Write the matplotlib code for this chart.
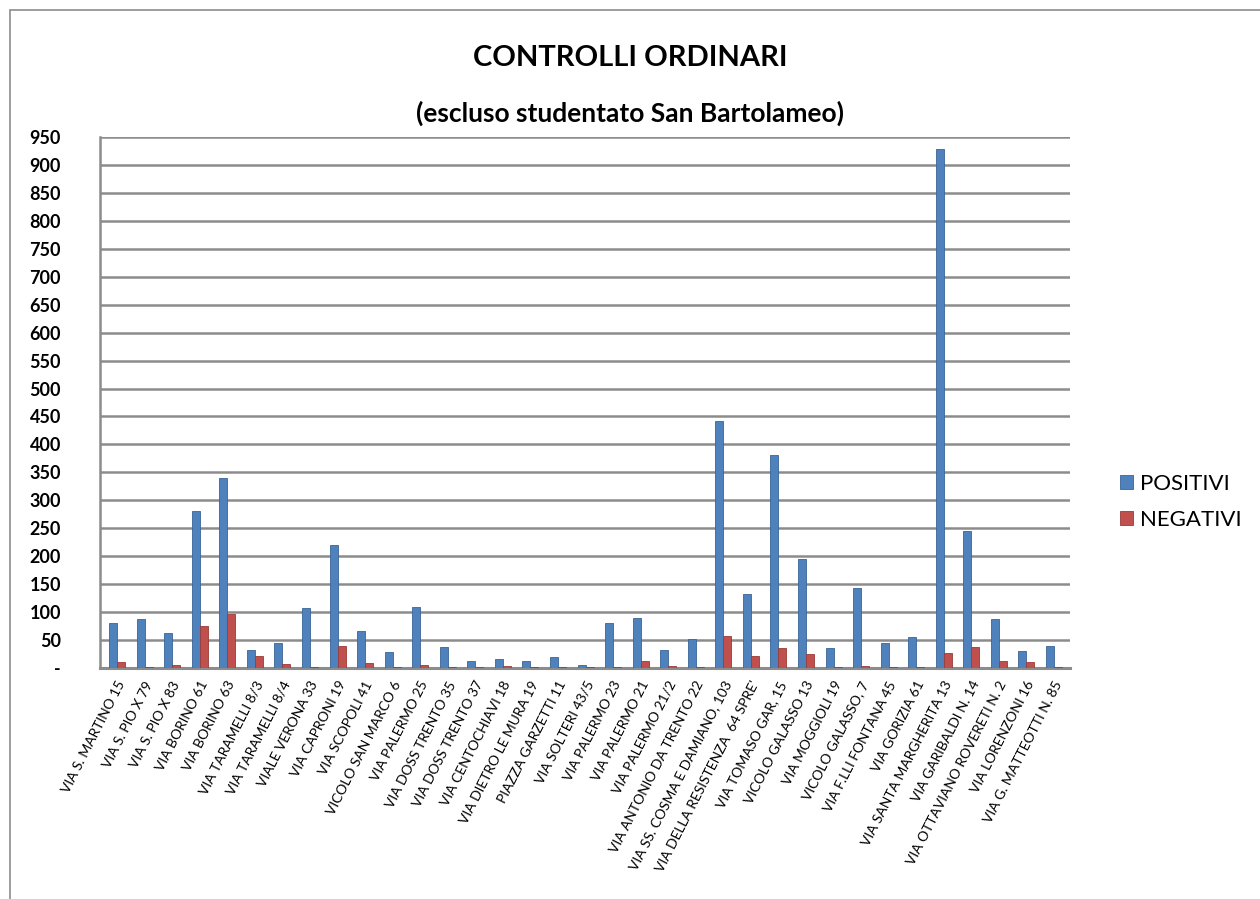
import matplotlib.pyplot as plt
import numpy as np
from matplotlib.patches import Rectangle

plt.rcParams['font.family'] = ['Lato', 'DejaVu Sans']

categories = [
    "VIA S. MARTINO 15", "VIA S. PIO X 79", "VIA S. PIO X 83", "VIA BORINO 61",
    "VIA BORINO 63", "VIA TARAMELLI 8/3", "VIA TARAMELLI 8/4", "VIALE VERONA 33",
    "VIA CAPRONI 19", "VIA SCOPOLI 41", "VICOLO SAN MARCO 6", "VIA PALERMO 25",
    "VIA DOSS TRENTO 35", "VIA DOSS TRENTO 37", "VIA CENTOCHIAVI 18",
    "VIA DIETRO LE MURA 19", "PIAZZA GARZETTI 11", "VIA SOLTERI 43/5",
    "VIA PALERMO 23", "VIA PALERMO 21", "VIA PALERMO 21/2",
    "VIA ANTONIO DA TRENTO 22", "VIA SS. COSMA E DAMIANO, 103",
    "VIA DELLA RESISTENZA  64 SPRE'", "VIA TOMASO GAR, 15", "VICOLO GALASSO 13",
    "VIA MOGGIOLI 19", "VICOLO GALASSO, 7", "VIA F.LLI FONTANA 45",
    "VIA GORIZIA 61", "VIA SANTA MARGHERITA 13", "VIA GARIBALDI N. 14",
    "VIA OTTAVIANO ROVERETI N. 2", "VIA LORENZONI 16", "VIA G. MATTEOTTI N. 85",
]
positivi = [80, 88, 62, 280, 340, 32, 45, 108, 220, 67, 28, 110, 37, 12, 16,
            12, 20, 5, 80, 90, 32, 52, 442, 133, 381, 195, 35, 143, 44, 56,
            928, 245, 87, 30, 40]
negativi = [10, 1, 5, 75, 97, 22, 8, 1, 39, 9, 1, 6, 1, 1, 3,
            1, 1, 1, 1, 13, 4, 1, 57, 22, 35, 25, 1, 4, 1, 1,
            27, 37, 12, 11, 1]
y_ticks = list(range(0, 1000, 50))
y_labels = ['-'] + [str(v) for v in y_ticks[1:]]

blue = '#4F81BD'
red = '#C0504D'
grid_col = '#8C8C8C'

fig = plt.figure(figsize=(12.6, 8.99), dpi=100)
fig.patches.append(Rectangle((10 / 1260, -0.01), 1.0, 1 - 10 / 899 + 0.01,
                             transform=fig.transFigure, fill=False,
                             edgecolor='#8C8C8C', linewidth=1.2))
ax = fig.add_axes([100 / 1260, 1 - 668 / 899, 970 / 1260, (668 - 137) / 899])

x = np.arange(len(categories))
w = 0.29
ax.bar(x - w / 2 + 0.02, positivi, w, color=blue, edgecolor='#3A6596',
       linewidth=0.6, label='POSITIVI', zorder=3)
ax.bar(x + w / 2 + 0.02, negativi, w, color=red, edgecolor='#9A3B38',
       linewidth=0.6, label='NEGATIVI', zorder=3)

ax.set_xlim(-0.6, len(categories) - 0.4)
ax.set_ylim(0, 950)
ax.set_yticks(y_ticks)
ax.set_yticklabels(y_labels, fontsize=13, fontweight='bold')
ax.yaxis.grid(True, color=grid_col, linewidth=1.8, zorder=0)
ax.set_axisbelow(True)

ax.set_xticks(x)
ax.set_xticklabels(categories, rotation=63, ha='right', rotation_mode='anchor',
                   fontsize=10)
ax.tick_params(axis='x', length=0, pad=8)
ax.tick_params(axis='y', length=0, pad=28)
for lbl in ax.get_yticklabels():
    lbl.set_horizontalalignment('right')

for s in ['top', 'right']:
    ax.spines[s].set_visible(False)
ax.spines['left'].set_color(grid_col)
ax.spines['left'].set_linewidth(1.8)
ax.spines['bottom'].set_color(grid_col)
ax.spines['bottom'].set_linewidth(2.2)

fig.text(0.5, 1 - 58 / 899, 'CONTROLLI ORDINARI', ha='center', va='center',
         fontsize=21, fontweight='bold')
fig.text(0.5, 1 - 113 / 899, '(escluso studentato San Bartolameo)', ha='center',
         va='center', fontsize=19, fontweight='bold')

fig.legend(loc='center left', bbox_to_anchor=(1120 / 1260, 1 - 502 / 899),
           frameon=False, fontsize=16, handlelength=0.6, handleheight=0.6,
           handletextpad=0.3, labelspacing=0.7, borderaxespad=0, borderpad=0)

fig.savefig('out.png', dpi=100)
